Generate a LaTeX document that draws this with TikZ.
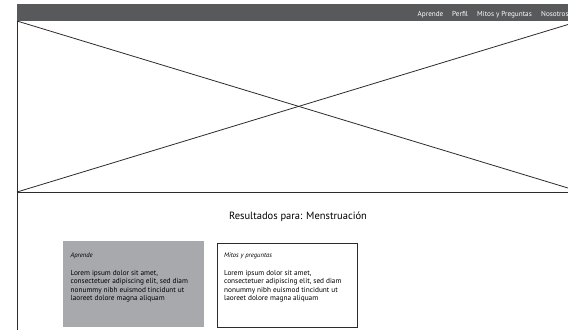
\documentclass[tikz,border=0pt]{standalone}
\usepackage{fontspec}
\setmainfont{PT Sans}
\definecolor{barcol}{RGB}{88,89,91}
\definecolor{cardcol}{RGB}{167,169,172}
\definecolor{linecol}{RGB}{45,42,43}
\tikzset{every picture/.style={x=1pt,y=-1pt}}
\tikzset{navlink/.style={anchor=base west,text=white,inner sep=0pt,font=\fontsize{7.2}{8}\selectfont}}
\tikzset{card/.style={anchor=north west,inner sep=0pt,minimum width=141pt,minimum height=86pt}}
\tikzset{cardtitle/.style={anchor=base west,inner sep=0pt,font=\fontsize{6.6}{8}\selectfont\itshape}}
\tikzset{cardtext/.style={anchor=north west,inner sep=0pt,align=left,font=\fontsize{7.3}{8.5}\selectfont}}
\tikzset{wire/.style={linecol,line width=0.8pt}}
\begin{document}
\begin{tikzpicture}
\useasboundingbox (0,0) rectangle (568,330);

% navigation bar
\node [fill=barcol,anchor=north west,inner sep=0pt,minimum width=551pt,minimum height=17pt] (bar) at (17,4) {};
\node [navlink] (aprende) at (417.5,16.5) {Aprende};
\node [navlink] (perfil) at (452,16.5) {Perfil};
\node [navlink] (mitos) at (477,16.5) {Mitos y Preguntas};
\node [navlink] (nosotros) at (541,16.5) {Nosotros};

% image placeholder
\coordinate (imgtl) at (17,21);
\coordinate (imgbl) at (17,192);
\coordinate (imgbr) at (568,192);
\coordinate (imgtr) at (568,24.5);
\coordinate (imgtd) at (568,188);
\coordinate (pagebl) at (17,330);

\draw [wire] (imgtl) -- (pagebl);
\draw [wire] (imgbl) -- (imgbr);
\draw [wire] (imgtl) -- (imgtd);
\draw [wire] (imgbl) -- (imgtr);

\node [anchor=base,inner sep=0pt,font=\fontsize{10.5}{12}\selectfont] (titulo) at (298,219.5) {Resultados para: Menstruación};

% result cards
\node [card,fill=cardcol] (card1) at (63,241) {};
\node [card,draw=linecol,line width=0.9pt,minimum width=140pt,minimum height=84pt] (card2) at (216.5,242.5) {};

\node [cardtitle] (t1) at (70.5,257) {Aprende};
\node [cardtext] (b1) at (70.5,270) {Lorem ipsum dolor sit amet,\\consectetuer adipiscing elit, sed diam\\nonummy nibh euismod tincidunt ut\\laoreet dolore magna aliquam};

\node [cardtitle] (t2) at (224,257) {Mitos y preguntas};
\node [cardtext] (b2) at (224,270) {Lorem ipsum dolor sit amet,\\consectetuer adipiscing elit, sed diam\\nonummy nibh euismod tincidunt ut\\laoreet dolore magna aliquam};
\end{tikzpicture}
\end{document}
